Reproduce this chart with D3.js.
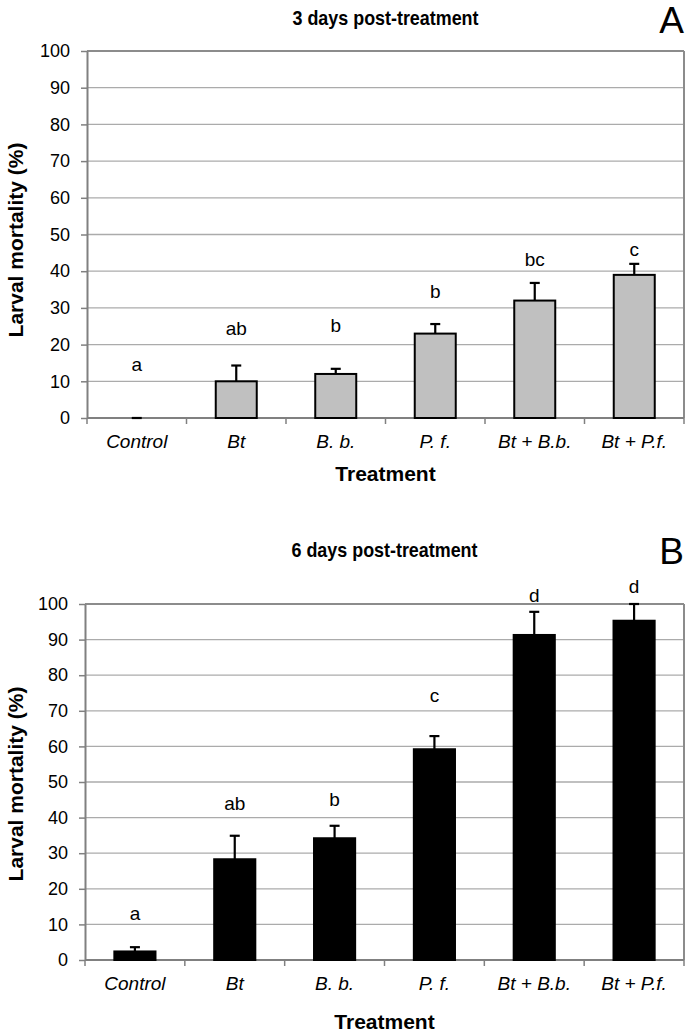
<!DOCTYPE html>
<html>
<head>
<meta charset="utf-8">
<script src="https://cdn.jsdelivr.net/npm/d3@7"></script>
<style>
  html, body { margin: 0; padding: 0; background: #fff; }
  svg { display: block; font-family: "Liberation Sans", Arial, sans-serif; }
</style>
</head>
<body>
<svg id="chart" width="685" height="1032"></svg>
<script>
// ---- data ----
const categories = ["Control", "Bt", "B. b.", "P. f.", "Bt + B.b.", "Bt + P.f."];
const yTicks = [0, 10, 20, 30, 40, 50, 60, 70, 80, 90, 100];

const day3Mean = [0, 10, 12, 23, 32, 39];
const day3Err = [0, 4.3, 1.4, 2.6, 4.8, 3.0];
const day3Letters = ["a", "ab", "b", "b", "bc", "c"];
const day3LetterAt = [12.7, 22.6, 23.5, 32.8, 41.4, 44.1];

const day6Mean = [2.4, 28.3, 34.2, 59.2, 91.3, 95.3];
const day6Err = [1.2, 6.6, 3.5, 3.7, 6.5, 4.7];
const day6Letters = ["a", "ab", "b", "c", "d", "d"];
const day6LetterAt = [11.2, 42.1, 43.3, 72.4, 100.6, 103.2];

// ---- layout ----
const panels = [
  { title: "3 days post-treatment", tag: "A", mean: day3Mean, err: day3Err,
    letters: day3Letters, letterAt: day3LetterAt, fill: "#c0c0c0", barStroke: "#000",
    left: 87, right: 684, top: 51, bottom: 418, titleY: 25, tagY: 33,
    yLabelY: 240, catY: 448, axisTitleY: 481 },
  { title: "6 days post-treatment", tag: "B", mean: day6Mean, err: day6Err,
    letters: day6Letters, letterAt: day6LetterAt, fill: "#000", barStroke: "#000",
    left: 85, right: 684, top: 604, bottom: 960, titleY: 557, tagY: 564,
    yLabelY: 784, catY: 990, axisTitleY: 1029 }
];

const svg = d3.select("#chart");

panels.forEach(p => {
  const g = svg.append("g");
  const x = d3.scaleBand().domain(categories).range([p.left, p.right])
    .paddingInner(0.588).paddingOuter(0.294);
  const y = d3.scaleLinear().domain([0, 100]).range([p.bottom, p.top]);
  const step = x.step();

  // gridlines
  g.append("g").selectAll("line").data(yTicks.filter(t => t > 0)).join("line")
    .attr("x1", p.left).attr("x2", p.right)
    .attr("y1", d => y(d)).attr("y2", d => y(d))
    .attr("stroke", d => d === 100 ? "#8c8c8c" : "#ababab")
    .attr("stroke-width", d => d === 100 ? 2 : 1.3);
  // right frame
  g.append("line").attr("x1", p.right).attr("x2", p.right)
    .attr("y1", y(100)).attr("y2", y(0))
    .attr("stroke", "#8c8c8c").attr("stroke-width", 2);

  // y axis
  const yAxis = g.append("g").attr("transform", `translate(${p.left},0)`)
    .call(d3.axisLeft(y).tickValues(yTicks).tickSize(6).tickPadding(11).tickSizeOuter(0));
  yAxis.select(".domain").attr("stroke", "#808080").attr("stroke-width", 2);
  yAxis.selectAll(".tick line").attr("stroke", "#808080").attr("stroke-width", 1.5);
  yAxis.selectAll(".tick text").attr("font-size", 18).attr("fill", "#000")
    .attr("font-family", "Liberation Sans, Arial, sans-serif");

  // x axis line and boundary ticks
  g.append("line").attr("x1", p.left).attr("x2", p.right)
    .attr("y1", y(0)).attr("y2", y(0))
    .attr("stroke", "#808080").attr("stroke-width", 2);
  g.append("g").selectAll("line").data(d3.range(categories.length + 1)).join("line")
    .attr("x1", i => p.left + i * step).attr("x2", i => p.left + i * step)
    .attr("y1", y(0)).attr("y2", y(0) + 6)
    .attr("stroke", "#808080").attr("stroke-width", 1.5);

  // category labels
  g.append("g").selectAll("text").data(categories).join("text")
    .attr("x", d => x(d) + x.bandwidth() / 2).attr("y", p.catY)
    .attr("text-anchor", "middle").attr("font-size", 19).attr("font-style", "italic")
    .text(d => d);

  // bars
  const rows = categories.map((c, i) => ({ c, m: p.mean[i], e: p.err[i], l: p.letters[i], la: p.letterAt[i] }));
  g.append("g").selectAll("rect").data(rows.filter(r => r.m > 0)).join("rect")
    .attr("x", r => x(r.c)).attr("width", x.bandwidth())
    .attr("y", r => y(r.m)).attr("height", r => y(0) - y(r.m))
    .attr("fill", p.fill).attr("stroke", p.barStroke).attr("stroke-width", 2);

  // error bars
  const eb = g.append("g").attr("stroke", "#000").attr("stroke-width", 2.2);
  eb.selectAll("line.v").data(rows).join("line").attr("class", "v")
    .attr("x1", r => x(r.c) + x.bandwidth() / 2).attr("x2", r => x(r.c) + x.bandwidth() / 2)
    .attr("y1", r => y(r.m)).attr("y2", r => y(r.m + r.e));
  eb.selectAll("line.cap").data(rows).join("line").attr("class", "cap")
    .attr("x1", r => x(r.c) + x.bandwidth() / 2 - 5).attr("x2", r => x(r.c) + x.bandwidth() / 2 + 5)
    .attr("y1", r => y(r.m + r.e)).attr("y2", r => y(r.m + r.e));

  // letters
  g.append("g").selectAll("text").data(rows).join("text")
    .attr("x", r => x(r.c) + x.bandwidth() / 2).attr("y", r => y(r.la))
    .attr("text-anchor", "middle").attr("font-size", 19).text(r => r.l);

  // titles
  g.append("text").attr("x", (p.left + p.right) / 2).attr("y", p.titleY)
    .attr("text-anchor", "middle").attr("font-size", 21).attr("font-weight", "bold")
    .attr("textLength", 186).attr("lengthAdjust", "spacingAndGlyphs")
    .text(p.title);
  g.append("text").attr("x", 684).attr("y", p.tagY)
    .attr("text-anchor", "end").attr("font-size", 37).text(p.tag);
  g.append("text").attr("x", (p.left + p.right) / 2).attr("y", p.axisTitleY)
    .attr("text-anchor", "middle").attr("font-size", 21).attr("font-weight", "bold")
    .text("Treatment");
  g.append("text").attr("transform", `translate(23,${p.yLabelY}) rotate(-90)`)
    .attr("text-anchor", "middle").attr("font-size", 21).attr("font-weight", "bold")
    .text("Larval mortality (%)");
});
</script>
</body>
</html>
